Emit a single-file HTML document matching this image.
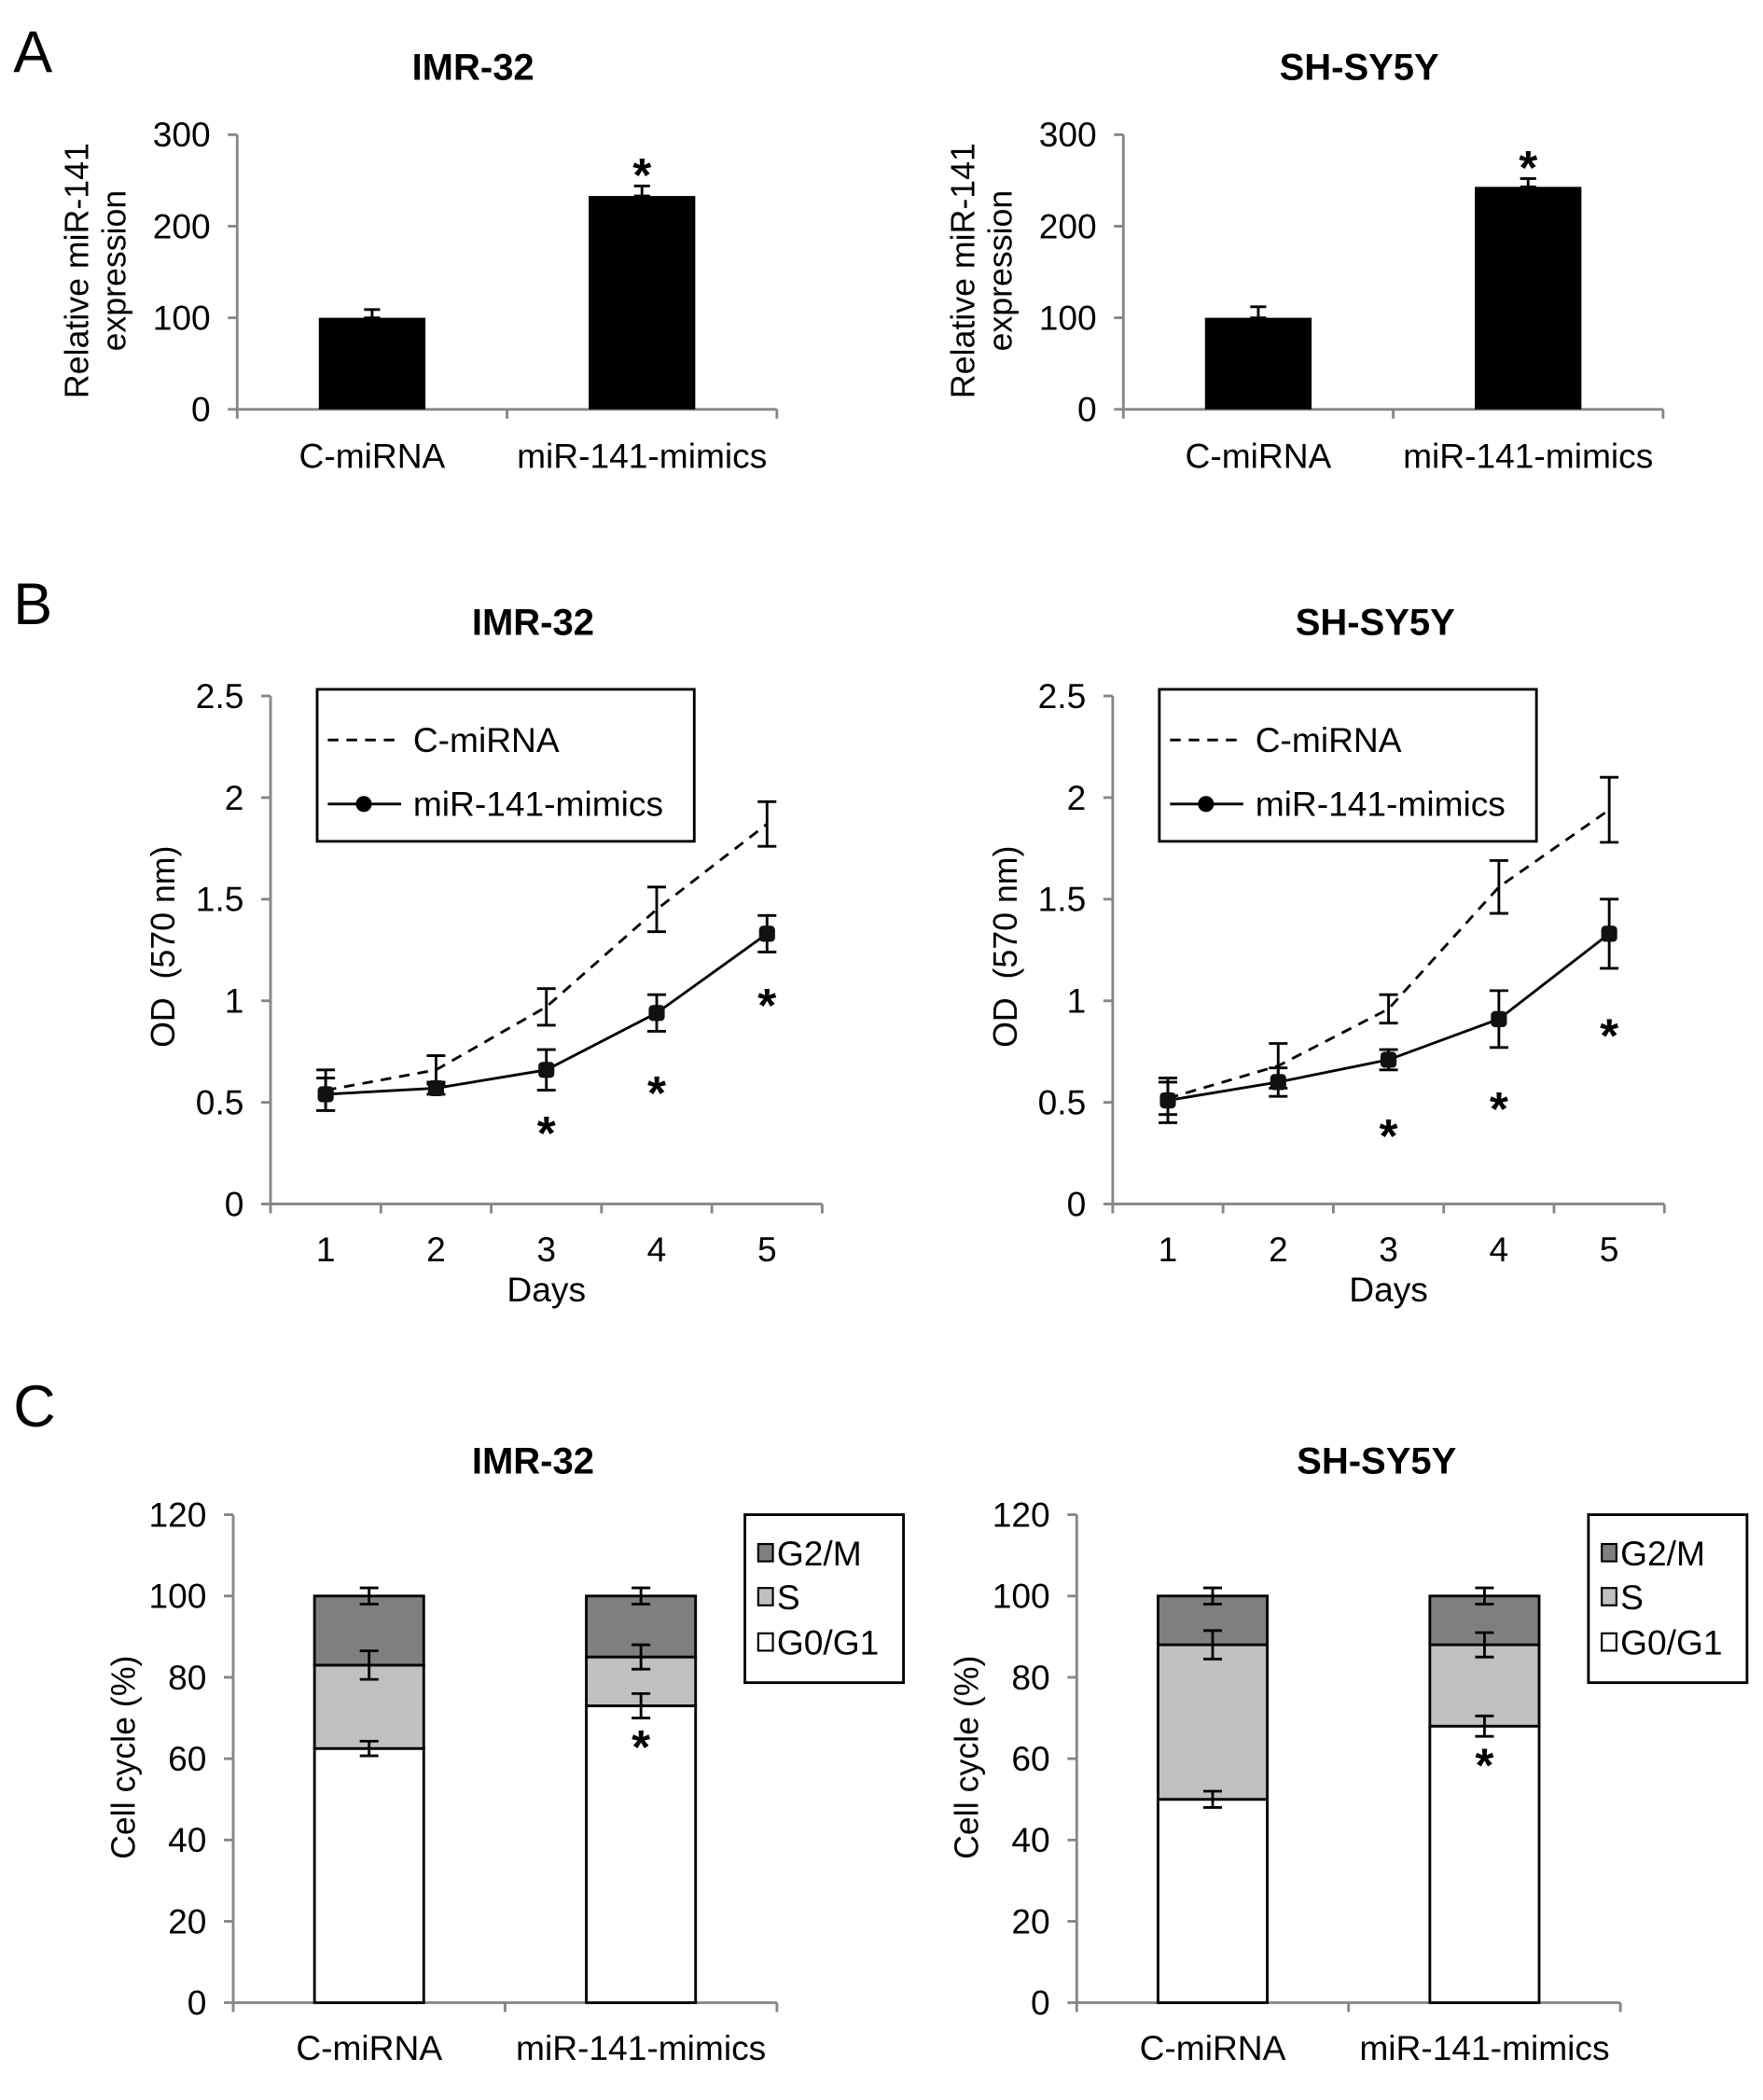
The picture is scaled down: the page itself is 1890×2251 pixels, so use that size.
<!DOCTYPE html>
<html><head><meta charset="utf-8"><title>miR-141 figure</title>
<style>
html,body{margin:0;padding:0;background:#fff;}
svg{display:block;font-family:"Liberation Sans",Arial,sans-serif;}
</style></head>
<body>
<svg id="fig" width="1890" height="2251" viewBox="0 0 1323 1575" preserveAspectRatio="none" xmlns="http://www.w3.org/2000/svg">
<rect x="0" y="0" width="1323" height="1575" fill="#fff"/>
</svg>
<script>
// ---- Panel A data ----
const aCategories = ["C-miRNA", "miR-141-mimics"];
const aTicks = [0, 100, 200, 300];
const aImrValues = [100, 233];
const aImrErr = [9, 11];
const aShValues = [100, 243];
const aShErr = [12, 9];
// ---- Panel B data ----
const bDays = [1, 2, 3, 4, 5];
const bTicks = [0, 0.5, 1, 1.5, 2, 2.5];
const bTickLabels = ["0", "0.5", "1", "1.5", "2", "2.5"];
const bImrCtrl = [0.56, 0.66, 0.97, 1.45, 1.87];
const bImrCtrlErr = [0.10, 0.07, 0.09, 0.11, 0.11];
const bImrMim = [0.54, 0.57, 0.66, 0.94, 1.33];
const bImrMimErr = [0.08, 0.03, 0.10, 0.09, 0.09];
const bShCtrl = [0.52, 0.68, 0.96, 1.56, 1.94];
const bShCtrlErr = [0.08, 0.11, 0.07, 0.13, 0.16];
const bShMim = [0.51, 0.60, 0.71, 0.91, 1.33];
const bShMimErr = [0.11, 0.07, 0.05, 0.14, 0.17];
// ---- Panel C data ----
const cCategories = ["C-miRNA", "miR-141-mimics"];
const cTicks = [0, 20, 40, 60, 80, 100, 120];
const cImrG1 = [62.5, 73]; const cImrS = [20.5, 12]; const cImrG2 = [17, 15];
const cImrErrG1 = [1.8, 3]; const cImrErrS = [3.5, 3]; const cImrErrG2 = [2, 2];
const cShG1 = [50, 68]; const cShS = [38, 20]; const cShG2 = [12, 12];
const cShErrG1 = [2, 2.5]; const cShErrS = [3.5, 3]; const cShErrG2 = [2, 2];

const NS = "http://www.w3.org/2000/svg";
const svg = document.getElementById("fig");
const FS = 26;
function mk(tag, attrs, parent) {
  const e = document.createElementNS(NS, tag);
  for (const k in attrs) e.setAttribute(k, attrs[k]);
  (parent || svg).appendChild(e);
  return e;
}
function txt(s, x, y, size, anchor, weight, parent) {
  const t = mk("text", {x: x, y: y, "font-size": size, "text-anchor": anchor || "middle", "font-weight": weight || "normal", fill: "#000"}, parent);
  t.textContent = s;
  return t;
}
const AX = "#868686";

function errbar(g, x, yTop, yBot, w) {
  const l = mk("path", {d: `M${x-w},${yTop}H${x+w}M${x},${yTop}V${yBot}M${x-w},${yBot}H${x+w}`, stroke: "#000", "stroke-width": 2, fill: "none"}, g);
  
  
}
function star(g, x, y) {
  const s = txt("*", x, y, 36, "middle", "bold", g);
  
  
}

// ---------- Panel A ----------
function panelA(ox, title, vals, errs, name) {
  const g = mk("g", {});
  
  
  const x0 = 178 + ox, x1 = 583 + ox, yB = 307, yT = 101;
  const y = v => yB - (v - 0) / 300 * (yB - yT);
  const catX = i => x0 + (i + 0.5) * (x1 - x0) / aCategories.length;
  const t = txt(title, 355 + ox, 60, 28, "middle", "bold", g);
  
  
  const yt = mk("text", {transform: `translate(${70 + ox},203) rotate(-90)`, "font-size": 25, "text-anchor": "middle"}, g);
  
  
  const ts1 = mk("tspan", {x: 0, dy: -4}, yt); ts1.textContent = "Relative miR-141";
  const ts2 = mk("tspan", {x: 0, dy: 28}, yt); ts2.textContent = "expression";
  aTicks.forEach(v => {
    const tk = mk("line", {x1: x0 - 7, x2: x0, y1: y(v), y2: y(v), stroke: AX, "stroke-width": 2}, g);
    
    
    const lb = txt(String(v), x0 - 20, y(v) + 9, FS, "end", "normal", g);
    
    
  });
  const ya = mk("line", {x1: x0, x2: x0, y1: yT, y2: yB, stroke: AX, "stroke-width": 2}, g);
  
  
  const xa = mk("line", {x1: x0, x2: x1, y1: yB, y2: yB, stroke: AX, "stroke-width": 2}, g);
  
  
  for (let i = 0; i <= aCategories.length; i++) {
    const xx = x0 + i * (x1 - x0) / aCategories.length;
    const tk = mk("line", {x1: xx, x2: xx, y1: yB, y2: yB + 7, stroke: AX, "stroke-width": 2}, g);
    
    
  }
  aCategories.forEach((c, i) => {
    const cx = catX(i);
    errbar(g, cx, y(vals[i] + errs[i]), y(vals[i]), 6);
    const b = mk("rect", {x: cx - 40, y: y(vals[i]), width: 80, height: yB - y(vals[i]), fill: "#000"}, g);
    
    
    const lb = txt(c, cx, 351, FS, "middle", "normal", g);
    
    
  });
  star(g, catX(1), y(vals[1] + errs[1]) + 4);
}
panelA(0, "IMR-32", aImrValues, aImrErr, "panel-a-imr32");
panelA(665, "SH-SY5Y", aShValues, aShErr, "panel-a-shsy5y");

// ---------- Panel B ----------
function panelB(ox, title, ctrl, ctrlE, mim, mimE, starY, name) {
  const g = mk("g", {});
  
  
  const x0 = 203 + ox, x1 = 617 + ox, yB = 903, yT = 522;
  const y = v => yB - v / 2.5 * (yB - yT);
  const x = d => x0 + (d - 0.5) * (x1 - x0) / bDays.length;
  const t = txt(title, 400 + ox, 476, 28, "middle", "bold", g);
  
  
  const yt = mk("text", {transform: `translate(${131 + ox},710) rotate(-90)`, "font-size": 25, "text-anchor": "middle"}, g);
  yt.textContent = "OD\u00a0\u00a0(570 nm)";
  
  
  bTicks.forEach((v, i) => {
    const tk = mk("line", {x1: x0 - 7, x2: x0, y1: y(v), y2: y(v), stroke: AX, "stroke-width": 2}, g);
    
    
    const lb = txt(bTickLabels[i], x0 - 20, y(v) + 9, FS, "end", "normal", g);
    
    
  });
  const ya = mk("line", {x1: x0, x2: x0, y1: yT, y2: yB, stroke: AX, "stroke-width": 2}, g);
  
  
  const xa = mk("line", {x1: x0, x2: x1, y1: yB, y2: yB, stroke: AX, "stroke-width": 2}, g);
  
  
  for (let i = 0; i <= bDays.length; i++) {
    const xx = x0 + i * (x1 - x0) / bDays.length;
    const tk = mk("line", {x1: xx, x2: xx, y1: yB, y2: yB + 7, stroke: AX, "stroke-width": 2}, g);
    
    
  }
  bDays.forEach(d => {
    const lb = txt(String(d), x(d), 946, FS, "middle", "normal", g);
    
    
  });
  const dl = txt("Days", 410 + ox, 976, FS, "middle", "normal", g);
  
  
  const cl = mk("polyline", {points: bDays.map((d, i) => `${x(d)},${y(ctrl[i])}`).join(" "), fill: "none", stroke: "#000", "stroke-width": 2, "stroke-dasharray": "8,6"}, g);
  
  
  bDays.forEach((d, i) => errbar(g, x(d), y(ctrl[i] + ctrlE[i]), y(ctrl[i] - ctrlE[i]), 7));
  const ml = mk("polyline", {points: bDays.map((d, i) => `${x(d)},${y(mim[i])}`).join(" "), fill: "none", stroke: "#000", "stroke-width": 2}, g);
  
  
  bDays.forEach((d, i) => {
    errbar(g, x(d), y(mim[i] + mimE[i]), y(mim[i] - mimE[i]), 7);
    const p = mk("rect", {x: x(d) - 6, y: y(mim[i]) - 6, width: 12, height: 12, rx: 3, fill: "#111"}, g);
    
    
  });
  [3, 4, 5].forEach((d, k) => star(g, x(d), starY[k]));
  const lg = mk("g", {}, g);
  
  
  const lr = mk("rect", {x: 238 + ox, y: 517, width: 283, height: 114, fill: "#fff", stroke: "#000", "stroke-width": 2}, lg);
  
  
  const l1 = mk("line", {x1: 246 + ox, x2: 301 + ox, y1: 555, y2: 555, stroke: "#000", "stroke-width": 2, "stroke-dasharray": "8,6"}, lg);
  
  
  const t1 = txt("C-miRNA", 310 + ox, 564, FS, "start", "normal", lg);
  
  
  const l2 = mk("line", {x1: 246 + ox, x2: 301 + ox, y1: 603, y2: 603, stroke: "#000", "stroke-width": 2}, lg);
  
  
  const dt = mk("circle", {cx: 273 + ox, cy: 603, r: 6, fill: "#000"}, lg);
  
  
  const t2 = txt("miR-141-mimics", 310 + ox, 612, FS, "start", "normal", lg);
  
  
}
panelB(0, "IMR-32", bImrCtrl, bImrCtrlErr, bImrMim, bImrMimErr, [862, 832, 766], "panel-b-imr32");
panelB(632, "SH-SY5Y", bShCtrl, bShCtrlErr, bShMim, bShMimErr, [864, 844, 789], "panel-b-shsy5y");

// ---------- Panel C ----------
function panelC(ox, title, g1, s, g2, e1, es, e2, name) {
  const g = mk("g", {});
  
  
  const x0 = 175 + ox, x1 = 583 + ox, yB = 1502, yT = 1136;
  const y = v => yB - v / 120 * (yB - yT);
  const catX = i => x0 + (i + 0.5) * (x1 - x0) / cCategories.length;
  const t = txt(title, 400 + ox, 1105, 28, "middle", "bold", g);
  
  
  const yt = mk("text", {transform: `translate(${101 + ox},1318) rotate(-90)`, "font-size": 25, "text-anchor": "middle"}, g);
  yt.textContent = "Cell cycle (%)";
  
  
  cTicks.forEach(v => {
    const tk = mk("line", {x1: x0 - 7, x2: x0, y1: y(v), y2: y(v), stroke: AX, "stroke-width": 2}, g);
    
    
    const lb = txt(String(v), x0 - 20, y(v) + 9, FS, "end", "normal", g);
    
    
  });
  const ya = mk("line", {x1: x0, x2: x0, y1: yT, y2: yB, stroke: AX, "stroke-width": 2}, g);
  
  
  const xa = mk("line", {x1: x0, x2: x1, y1: yB, y2: yB, stroke: AX, "stroke-width": 2}, g);
  
  
  for (let i = 0; i <= cCategories.length; i++) {
    const xx = x0 + i * (x1 - x0) / cCategories.length;
    const tk = mk("line", {x1: xx, x2: xx, y1: yB, y2: yB + 7, stroke: AX, "stroke-width": 2}, g);
    
    
  }
  cCategories.forEach((c, i) => {
    const cx = catX(i), w = 82;
    const b1 = mk("rect", {x: cx - w/2, y: y(g1[i]), width: w, height: y(0) - y(g1[i]), fill: "#fff", stroke: "#000", "stroke-width": 2}, g);
    
    
    const b2 = mk("rect", {x: cx - w/2, y: y(g1[i] + s[i]), width: w, height: y(g1[i]) - y(g1[i] + s[i]), fill: "#c0c0c0", stroke: "#000", "stroke-width": 2}, g);
    
    
    const top = g1[i] + s[i] + g2[i];
    const b3 = mk("rect", {x: cx - w/2, y: y(top), width: w, height: y(g1[i] + s[i]) - y(top), fill: "#7f7f7f", stroke: "#000", "stroke-width": 2}, g);
    
    
    errbar(g, cx, y(g1[i] + e1[i]), y(g1[i] - e1[i]), 7);
    errbar(g, cx, y(g1[i] + s[i] + es[i]), y(g1[i] + s[i] - es[i]), 7);
    errbar(g, cx, y(top + e2[i]), y(top - e2[i]), 7);
    const lb = txt(c, cx, 1545, FS, "middle", "normal", g);
    
    
  });
  star(g, catX(1), y(g1[1] - e1[1]) + 34);
  const lg = mk("g", {}, g);
  
  
  const lr = mk("rect", {x: 559 + ox, y: 1136, width: 119, height: 126, fill: "#fff", stroke: "#000", "stroke-width": 2}, lg);
  
  
  const items = [["G2/M", "#7f7f7f", 1165], ["S", "#c0c0c0", 1198], ["G0/G1", "#fff", 1232]];
  items.forEach(it => {
    const sw = mk("rect", {x: 569 + ox, y: it[2] - 7, width: 11, height: 13, fill: it[1], stroke: "#000", "stroke-width": 1.5}, lg);
    
    
    const lt = txt(it[0], 583 + ox, it[2] + 9, FS, "start", "normal", lg);
    
    
  });
}
panelC(0, "IMR-32", cImrG1, cImrS, cImrG2, cImrErrG1, cImrErrS, cImrErrG2, "panel-c-imr32");
panelC(633, "SH-SY5Y", cShG1, cShS, cShG2, cShErrG1, cShErrS, cShErrG2, "panel-c-shsy5y");

[["A", 54], ["B", 468], ["C", 1070]].forEach(p => {
  const l = txt(p[0], 10, p[1], 44, "start", "normal");
  
  
});
</script>
</body></html>
